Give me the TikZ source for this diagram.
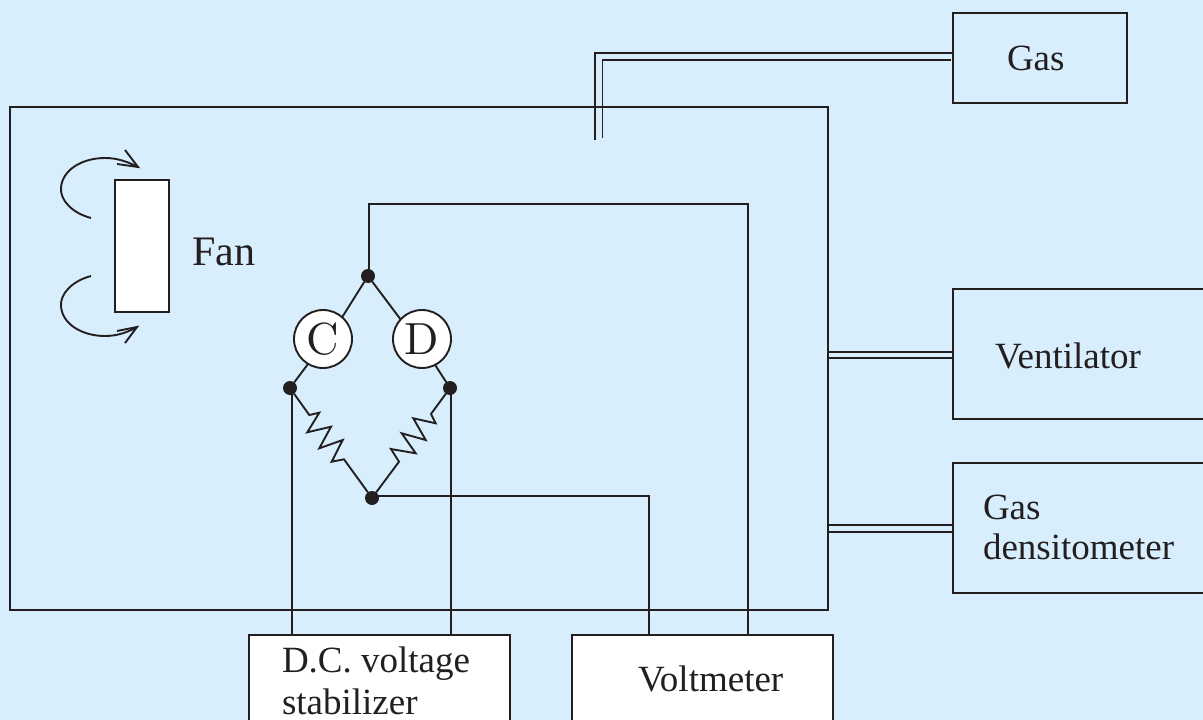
\documentclass[tikz,border=0pt]{standalone}
\usepackage{graphicx}
\usepackage{fontspec}
\newfontfamily\tmfont{Liberation Serif}
\definecolor{bgblue}{HTML}{D8EEFC}
\definecolor{ink}{HTML}{231F20}
\tikzset{
  wire/.style={draw=ink,line width=1.9pt,line join=miter},
  box/.style={draw=ink,line width=2pt,rectangle,inner sep=0pt,outer sep=0pt,anchor=north west},
  whitebox/.style={box,fill=white},
  dot/.style={circle,fill=ink,inner sep=0pt,outer sep=0pt,minimum size=14pt},
  gauge/.style={circle,draw=ink,fill=white,line width=1.9pt,inner sep=0pt,outer sep=0pt,minimum size=58pt,font=\fontsize{10}{10}\selectfont,text=ink},
  label/.style={anchor=base west,inner sep=0pt,outer sep=0pt,font=\tmfont\fontsize{37}{40}\selectfont,text=ink},
  multi/.style={anchor=north west,align=left,inner sep=0pt,outer sep=0pt,font=\tmfont\fontsize{37}{40}\selectfont,text=ink}
}
\begin{document}
\begin{tikzpicture}[x=1pt,y=-1pt]
\path[use as bounding box,fill=bgblue] (0,0) rectangle (1203,720);
\clip (0,0) rectangle (1203,720);
% boxes
\node[box,minimum width=818pt,minimum height=503pt] (chamber) at (10,107) {};
\node[box,minimum width=174pt,minimum height=90pt] (gasbox) at (953,13) {};
\node[box,minimum width=270pt,minimum height=130pt] (vent) at (953,289) {};
\node[box,minimum width=270pt,minimum height=130pt] (dens) at (953,463) {};
\node[whitebox,minimum width=261pt,minimum height=110pt] (stab) at (249,635) {};
\node[whitebox,minimum width=261pt,minimum height=110pt] (volt) at (572,635) {};
\node[whitebox,minimum width=54pt,minimum height=132pt] (fan) at (115,180) {};
% bridge junctions
\node[dot] (top) at (368,276) {};
\node[dot] (left) at (290,388) {};
\node[dot] (right) at (450,388) {};
\node[dot] (bottom) at (372,498) {};
% gas pipes
\coordinate (pa) at (595,140);
\coordinate (pb) at (602.5,138);
\coordinate (ga) at (953,53);
\coordinate (gb) at (951,60);
\draw[wire] (pa) |- (ga);
\draw[wire] (pb) |- (gb);
% side pipes
\draw[wire,line width=2.3pt] (828,352) -- (vent.west |- 0,352);
\draw[wire] (828,358) -- (vent.west |- 0,358);
\draw[wire] (828,525) -- (dens.west |- 0,525);
\draw[wire] (828,532) -- (dens.west |- 0,532);
% wires
\draw[wire] (369,276) -- (369,204) -- (748,204) -- (748,635);
\draw[wire] (292,388) -- (292,635);
\draw[wire] (451,388) -- (451,635);
\draw[wire] (bottom.center) -- (372,496) -- (649,496) -- (649,635);
% bridge arms, running behind the gauges
\coordinate (cu) at (336,327);
\coordinate (du) at (410,332);
\coordinate (cl) at (314,356);
\coordinate (dl) at (430,357);
\draw[wire] (top) -- (cu);
\draw[wire] (top) -- (du);
\draw[wire] (cl) -- (left);
\draw[wire] (dl) -- (right);
\node[gauge] (C) at (323,339) {\scalebox{4.5}{C}};
\node[gauge] (D) at (422,339) {\scalebox{4.5}{D}};
% resistors
\draw[wire] (left) -- (309.3,415) -- (319.3,412.7) -- (307.3,432.3) -- (331,426.7) -- (319.3,448.3) -- (342.7,440) -- (331.7,461.7) -- (344,459.3) -- (bottom);
\draw[wire] (right) -- (431,414) -- (435.7,423.3) -- (413.3,418.3) -- (425.7,440) -- (401.7,433.3) -- (415.7,453.3) -- (391,449) -- (399,461.7) -- (bottom);
% fan arrows
\coordinate (u0) at (91,218);
\coordinate (u1) at (138,167);
\coordinate (l0) at (91,276);
\coordinate (l1) at (137,327);
\draw[wire] (u0) .. controls (72,213) and (60,200) .. (61,188) .. controls (62,170) and (82,158) .. (105,158) .. controls (118,158) and (128,162) .. (u1);
\draw[wire] (125,150) -- (u1) -- (117,164);
\draw[wire] (l0) .. controls (72,281) and (60,294) .. (61,306) .. controls (62,324) and (82,336) .. (105,336) .. controls (118,336) and (128,332) .. (l1);
\draw[wire] (125,343) -- (l1) -- (117,331);
% labels
\node[label,font=\tmfont\fontsize{42}{44}\selectfont] (tfan) at (192,265.5) {Fan};
\node[label] (tgas) at (1007,70) {Gas};
\node[label] (tvent) at (995,368) {Ventilator};
\node[multi] (tdens) at (983,495) {Gas\\densitometer};
\node[multi] (tstab) at (282,647) {D.C. voltage\\[1.5pt]stabilizer};
\node[label] (tvolt) at (638,691) {Voltmeter};
\end{tikzpicture}
\end{document}
